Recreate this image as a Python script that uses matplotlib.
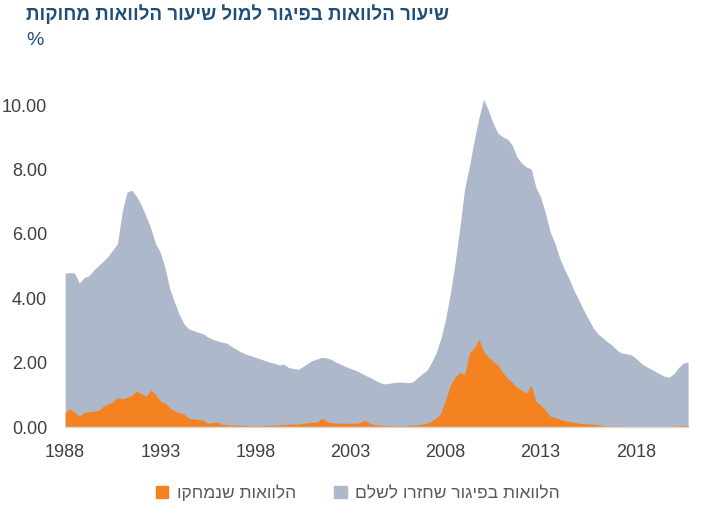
import numpy as np
import matplotlib
matplotlib.use("Agg")
import matplotlib.pyplot as plt
from matplotlib.patches import Patch

plt.rcParams['font.family'] = ['Liberation Sans', 'DejaVu Sans']

# quarterly data, 1988Q1 .. 2020Q4
start_year = 1988
delinquent = [
    4.78, 4.80, 4.78, 4.47, 4.65, 4.70, 4.88, 5.02, 5.15, 5.30,
    5.50, 5.70, 6.70, 7.30, 7.36, 7.17, 6.90, 6.55, 6.18, 5.70,
    5.43, 4.95, 4.30, 3.88, 3.50, 3.20, 3.05, 3.00, 2.94, 2.90,
    2.80, 2.73, 2.68, 2.64, 2.61, 2.50, 2.42, 2.33, 2.27, 2.22,
    2.17, 2.12, 2.07, 2.02, 1.98, 1.93, 1.96, 1.85, 1.82, 1.80,
    1.88, 1.98, 2.07, 2.12, 2.17, 2.15, 2.10, 2.01, 1.95, 1.88,
    1.82, 1.77, 1.70, 1.62, 1.55, 1.47, 1.40, 1.34, 1.36, 1.38,
    1.40, 1.40, 1.38, 1.40, 1.52, 1.65, 1.75, 2.00, 2.30, 2.75,
    3.35, 4.15, 5.10, 6.20, 7.40, 8.10, 8.90, 9.60, 10.19, 9.84,
    9.44, 9.13, 9.02, 8.95, 8.76, 8.40, 8.20, 8.08, 8.02, 7.45,
    7.14, 6.65, 6.06, 5.71, 5.25, 4.90, 4.60, 4.25, 3.95, 3.65,
    3.37, 3.10, 2.90, 2.78, 2.65, 2.55, 2.40, 2.30, 2.28, 2.25,
    2.14, 2.00, 1.90, 1.82, 1.74, 1.66, 1.58, 1.55, 1.66, 1.85,
    1.99, 2.02,
]
written_off = [
    0.45, 0.58, 0.45, 0.35, 0.45, 0.48, 0.50, 0.52, 0.65, 0.72,
    0.78, 0.92, 0.87, 0.93, 0.99, 1.12, 1.04, 0.96, 1.15, 1.02,
    0.81, 0.75, 0.60, 0.50, 0.45, 0.40, 0.28, 0.25, 0.24, 0.22,
    0.12, 0.14, 0.16, 0.09, 0.08, 0.06, 0.06, 0.06, 0.05, 0.04,
    0.03, 0.04, 0.05, 0.06, 0.06, 0.07, 0.08, 0.09, 0.09, 0.10,
    0.12, 0.13, 0.15, 0.16, 0.28, 0.17, 0.14, 0.13, 0.12, 0.12,
    0.12, 0.12, 0.14, 0.22, 0.12, 0.08, 0.07, 0.06, 0.05, 0.04,
    0.03, 0.03, 0.05, 0.06, 0.07, 0.09, 0.12, 0.18, 0.28, 0.43,
    0.85, 1.30, 1.55, 1.71, 1.62, 2.30, 2.45, 2.73, 2.35, 2.17,
    2.05, 1.93, 1.70, 1.52, 1.40, 1.24, 1.15, 1.06, 1.30, 0.80,
    0.68, 0.53, 0.34, 0.30, 0.25, 0.20, 0.18, 0.15, 0.12, 0.11,
    0.10, 0.09, 0.07, 0.05, 0.03, 0.03, 0.03, 0.03, 0.02, 0.02,
    0.01, 0.01, 0.00, 0.00, 0.00, 0.00, 0.00, 0.02, 0.03, 0.04,
    0.05, 0.06,
]
year_ticks = [1988, 1993, 1998, 2003, 2008, 2013, 2018]
y_ticks = [0, 2, 4, 6, 8, 10]

title = "שיעור הלוואות בפיגור למול שיעור הלוואות מחוקות"
label_gray = "הלוואות בפיגור שחזרו לשלם"
label_orange = "הלוואות שנמחקו"


def rtl(s):
    # matplotlib has no bidi support, so reverse hebrew for display
    return s[::-1]


gray_c = "#adb8cb"
orange_c = "#f58220"
text_c = "#404040"
title_c = "#1f4e79"

x = start_year + np.arange(len(delinquent)) / 4.0

fig = plt.figure(figsize=(7.16, 5.14), dpi=100)
ax = fig.add_axes([0.091, 0.169, 0.870, 0.689])

ax.fill_between(x, 0, delinquent, color=gray_c, linewidth=0)
ax.fill_between(x, 0, written_off, color=orange_c, linewidth=0)

ax.set_xlim(x[0], x[-1])
ax.set_ylim(0, 11)
ax.set_xticks(year_ticks)
ax.set_xticklabels([str(y) for y in year_ticks])
ax.set_yticks(y_ticks)
ax.set_yticklabels(["%.2f" % v for v in y_ticks])
ax.tick_params(length=0, labelsize=13, colors=text_c)
ax.tick_params(axis="x", pad=12)
ax.tick_params(axis="y", pad=13)

for s in ["top", "right", "left"]:
    ax.spines[s].set_visible(False)
ax.spines["bottom"].set_color("#d9d9d9")
ax.spines["bottom"].set_linewidth(1.0)

fig.text(0.037, 0.972, rtl(title), fontsize=13.5, fontweight="bold",
         color=title_c, ha="left", va="center")
fig.text(0.037, 0.922, "%", fontsize=14, color=title_c, ha="left", va="center")

handles = [Patch(color=orange_c, label=rtl(label_orange)),
           Patch(color=gray_c, label=rtl(label_gray))]
fig.legend(handles=handles, loc="center", bbox_to_anchor=(0.5, 0.041),
           ncol=2, frameon=False, markerfirst=True, fontsize=12.5,
           handlelength=0.7, handleheight=0.7, columnspacing=2.2,
           handletextpad=0.5, labelcolor="#595959")

fig.savefig("out.png", dpi=100)
